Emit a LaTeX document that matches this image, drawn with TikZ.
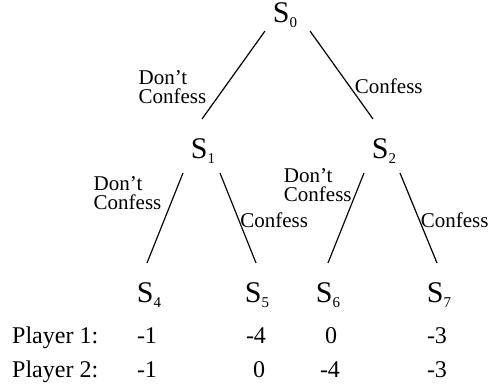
\documentclass[tikz,border=0pt]{standalone}
\usepackage{fontspec}
\setmainfont{Liberation Serif}
\usetikzlibrary{calc}

\newcommand{\stname}[1]{S\raisebox{-5pt}{\fontsize{15}{15}\selectfont #1}}

\begin{document}
\begin{tikzpicture}[x=1pt, y=-1pt,
  state/.style={inner sep=0pt, anchor=base, font=\fontsize{30}{30}\selectfont},
  move/.style={inner sep=0pt, font=\fontsize{21}{19}\selectfont, align=left},
  payoff/.style={inner sep=0pt, anchor=base, font=\fontsize{24}{24}\selectfont},
  edge/.style={line width=1.2pt}]

\useasboundingbox (0,0) rectangle (488,388);

% States of the game tree
\node[state] (s0) at (285,23)  {\stname{0}};
\node[state] (s1) at (203,158) {\stname{1}};
\node[state] (s2) at (384,158) {\stname{2}};
\node[state] (s4) at (149,302) {\stname{4}};
\node[state] (s5) at (257,302) {\stname{5}};
\node[state] (s6) at (328,302) {\stname{6}};
\node[state] (s7) at (439,302) {\stname{7}};

% Moves of player 1
\draw[edge] ($(s0.base)+(-20,8)$)
  -- node[move, pos=0.636, anchor=east, xshift=-18pt] {Don't\\Confess} ($(s1.base)+(-1,-39)$);
\draw[edge] ($(s0.base)+(25,8)$)
  -- node[move, pos=0.625, anchor=west, xshift=5pt] {Confess} ($(s2.base)+(-11,-39)$);

% Moves of player 2
\draw[edge] ($(s1.base)+(-20,15)$)
  -- node[move, pos=0.222, anchor=east, xshift=-13pt] {Don't\\Confess} ($(s4.base)+(-2,-39)$);
\draw[edge] ($(s1.base)+(17,15)$)
  -- node[move, pos=0.522, anchor=west, xshift=1pt] {Confess} ($(s5.base)+(-1,-39)$);
\draw[edge] ($(s2.base)+(-20,15)$)
  -- node[move, pos=0.133, anchor=east, xshift=-7pt] {Don't\\Confess} ($(s6.base)+(0,-39)$);
\draw[edge] ($(s2.base)+(16,15)$)
  -- node[move, pos=0.522, anchor=west, xshift=1pt] {Confess} ($(s7.base)+(-2,-39)$);

% Payoffs
\node[payoff, anchor=base west] (p1) at (12,343) {Player 1:};
\node[payoff, anchor=base west] (p2) at (12,377) {Player 2:};
\node[payoff] (a4) at (147,343) {-1};
\node[payoff] (a5) at (256,343) {-4};
\node[payoff] (a6) at (331,343) {0};
\node[payoff] (a7) at (437,343) {-3};
\node[payoff] (b4) at (147,377) {-1};
\node[payoff] (b5) at (259,377) {0};
\node[payoff] (b6) at (330,377) {-4};
\node[payoff] (b7) at (437,377) {-3};
\end{tikzpicture}
\end{document}
